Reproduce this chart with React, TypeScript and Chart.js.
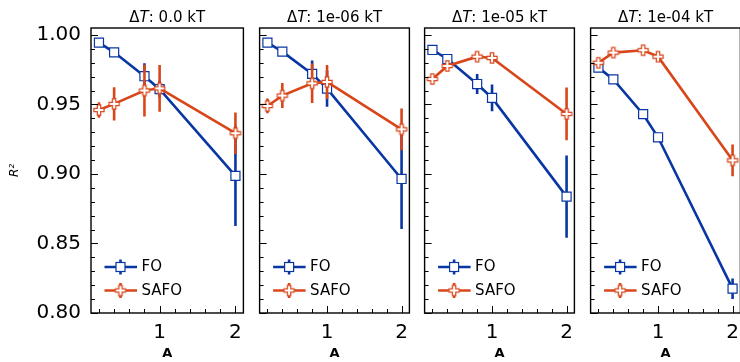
import React, { useEffect, useRef } from "react";
import { Chart, registerables } from "chart.js";

Chart.register(...registerables);

// ---------- data ----------
const aValues = [0.2, 0.4, 0.8, 1, 2];
const panelDeltaT = ["0.0", "1e-06", "1e-05", "1e-04"];

const foR2_dT0 = [0.9945, 0.9875, 0.9703, 0.961, 0.8986];
const foErr_dT0 = [0.002, 0.002, 0.0094, 0.006, 0.036];
const safoR2_dT0 = [0.946, 0.9504, 0.96, 0.9616, 0.9293];
const safoErr_dT0 = [0.0056, 0.012, 0.0187, 0.0168, 0.015];

const foR2_dT1 = [0.9945, 0.988, 0.972, 0.9614, 0.8964];
const foErr_dT1 = [0.002, 0.002, 0.0096, 0.013, 0.036];
const safoR2_dT1 = [0.9489, 0.9564, 0.9652, 0.9662, 0.9321];
const safoErr_dT1 = [0.0053, 0.009, 0.0142, 0.0122, 0.015];

const foR2_dT2 = [0.9892, 0.9827, 0.9647, 0.9547, 0.8837];
const foErr_dT2 = [0.002, 0.002, 0.0072, 0.0096, 0.0296];
const safoR2_dT2 = [0.9683, 0.9777, 0.9844, 0.9835, 0.9432];
const safoErr_dT2 = [0.002, 0.002, 0.002, 0.002, 0.019];

const foR2_dT3 = [0.9765, 0.968, 0.943, 0.9264, 0.8175];
const foErr_dT3 = [0.002, 0.001, 0.001, 0.001, 0.0074];
const safoR2_dT3 = [0.98, 0.9873, 0.989, 0.9844, 0.9098];
const safoErr_dT3 = [0.003, 0.002, 0.002, 0.002, 0.0114];

const xTickValues = [1, 2];
const xMinorTickValues = [0.2, 0.4, 0.6, 0.8, 1.2, 1.4, 1.6, 1.8];
const yTickValues = [0.8, 0.85, 0.9, 0.95, 1.0];
const yMinorTickValues = [
  0.81, 0.82, 0.83, 0.84, 0.86, 0.87, 0.88, 0.89, 0.91, 0.92, 0.93, 0.94,
  0.96, 0.97, 0.98, 0.99,
];
const seriesNames = ["FO", "SAFO"];

// tables built from the arrays above
const foMeans = [foR2_dT0, foR2_dT1, foR2_dT2, foR2_dT3];
const foErrs = [foErr_dT0, foErr_dT1, foErr_dT2, foErr_dT3];
const safoMeans = [safoR2_dT0, safoR2_dT1, safoR2_dT2, safoR2_dT3];
const safoErrs = [safoErr_dT0, safoErr_dT1, safoErr_dT2, safoErr_dT3];

// ---------- styles ----------
const FO_COLOR = "#0836a2";
const SAFO_COLOR = "#d8461a";
const FONT = "'DejaVu Sans', sans-serif";
const X_MIN = 0.095;
const X_MAX = 2.105;
const Y_MIN = 0.8;
const Y_MAX = 1.005;
const PANEL_LEFTS = [91, 257, 422, 588];
const PANEL_W = 155;

Chart.defaults.font.family = FONT;
Chart.defaults.color = "#000";

function makePlusImage(): HTMLCanvasElement {
  const c = document.createElement("canvas");
  c.width = 14;
  c.height = 14;
  const ctx = c.getContext("2d")!;
  const cx = 7,
    cy = 7,
    h = 5.1,
    a = h / 3;
  ctx.beginPath();
  ctx.moveTo(cx - a, cy - h);
  ctx.lineTo(cx + a, cy - h);
  ctx.lineTo(cx + a, cy - a);
  ctx.lineTo(cx + h, cy - a);
  ctx.lineTo(cx + h, cy + a);
  ctx.lineTo(cx + a, cy + a);
  ctx.lineTo(cx + a, cy + h);
  ctx.lineTo(cx - a, cy + h);
  ctx.lineTo(cx - a, cy + a);
  ctx.lineTo(cx - h, cy + a);
  ctx.lineTo(cx - h, cy - a);
  ctx.lineTo(cx - a, cy - a);
  ctx.closePath();
  ctx.fillStyle = "#fff";
  ctx.fill();
  ctx.strokeStyle = SAFO_COLOR;
  ctx.lineWidth = 1.2;
  ctx.stroke();
  return c;
}

const errorBarPlugin = {
  id: "errorBars",
  beforeDatasetDraw(chart: any, args: any) {
    const ds = chart.data.datasets[args.index];
    const errs: number[] = ds.errors;
    if (!errs) return;
    const { ctx, chartArea } = chart;
    const xs = chart.scales.x;
    const ys = chart.scales.y;
    ctx.save();
    ctx.beginPath();
    ctx.rect(chartArea.left, chartArea.top, chartArea.right - chartArea.left, chartArea.bottom - chartArea.top);
    ctx.clip();
    ctx.strokeStyle = ds.borderColor;
    ctx.lineWidth = 2.6;
    ctx.lineCap = "butt";
    ds.data.forEach((pt: any, i: number) => {
      const x = xs.getPixelForValue(pt.x);
      const y1 = ys.getPixelForValue(pt.y - errs[i]);
      const y2 = ys.getPixelForValue(pt.y + errs[i]);
      ctx.beginPath();
      ctx.moveTo(x, y1);
      ctx.lineTo(x, y2);
      ctx.stroke();
    });
    ctx.restore();
  },
};

const framePlugin = {
  id: "frameTicks",
  afterDatasetsDraw(chart: any) {
    const { ctx, chartArea } = chart;
    const xs = chart.scales.x;
    const ys = chart.scales.y;
    const { left, right, top, bottom } = chartArea;
    ctx.save();
    ctx.strokeStyle = "#000";
    ctx.lineWidth = 1;
    const tick = (x1: number, y1: number, x2: number, y2: number) => {
      ctx.beginPath();
      ctx.moveTo(x1, y1);
      ctx.lineTo(x2, y2);
      ctx.stroke();
    };
    yTickValues.forEach((v) => {
      const y = Math.round(ys.getPixelForValue(v)) + 0.5;
      tick(left, y, left + 7, y);
    });
    yMinorTickValues.forEach((v) => {
      const y = Math.round(ys.getPixelForValue(v)) + 0.5;
      tick(left, y, left + 4, y);
    });
    xTickValues.forEach((v) => {
      const x = Math.round(xs.getPixelForValue(v)) + 0.5;
      tick(x, bottom, x, bottom - 7);
    });
    xMinorTickValues.forEach((v) => {
      const x = Math.round(xs.getPixelForValue(v)) + 0.5;
      tick(x, bottom, x, bottom - 4);
    });
    ctx.lineWidth = 1.4;
    ctx.strokeRect(left, top, right - left, bottom - top);
    ctx.restore();
  },
};

function titlePlugin(value: string) {
  return {
    id: "panelTitle",
    afterDraw(chart: any) {
      const { ctx, chartArea } = chart;
      const cx = (chartArea.left + chartArea.right) / 2;
      const y = 18;
      const up = `15px ${FONT}`;
      const it = `italic 15px ${FONT}`;
      const parts: [string, string][] = [
        ["Δ", up],
        ["T", it],
        [`: ${value} kT`, up],
      ];
      ctx.save();
      ctx.fillStyle = "#000";
      ctx.textBaseline = "middle";
      ctx.textAlign = "left";
      let total = 0;
      parts.forEach(([t, f]) => {
        ctx.font = f;
        total += ctx.measureText(t).width;
      });
      let x = cx - total / 2;
      parts.forEach(([t, f]) => {
        ctx.font = f;
        ctx.fillText(t, x, y);
        x += ctx.measureText(t).width;
      });
      ctx.restore();
    },
  };
}

function legendPlugin(plusImg: HTMLCanvasElement) {
  return {
    id: "panelLegend",
    afterDraw(chart: any) {
      const { ctx, chartArea } = chart;
      const l = chartArea.left;
      const rows = [
        { y: chartArea.bottom - 46, color: FO_COLOR, name: seriesNames[0], marker: "square" },
        { y: chartArea.bottom - 22.5, color: SAFO_COLOR, name: seriesNames[1], marker: "plus" },
      ];
      ctx.save();
      rows.forEach((r) => {
        const mx = l + 29.5;
        ctx.strokeStyle = r.color;
        ctx.lineWidth = 2.6;
        ctx.beginPath();
        ctx.moveTo(l + 13.5, r.y);
        ctx.lineTo(l + 46, r.y);
        ctx.stroke();
        ctx.beginPath();
        ctx.moveTo(mx, r.y - 7.5);
        ctx.lineTo(mx, r.y + 7.5);
        ctx.stroke();
        if (r.marker === "square") {
          ctx.fillStyle = "#fff";
          ctx.fillRect(mx - 4.5, r.y - 4.5, 9, 9);
          ctx.lineWidth = 1.2;
          ctx.strokeRect(mx - 4.5, r.y - 4.5, 9, 9);
        } else {
          ctx.drawImage(plusImg, mx - plusImg.width / 2, r.y - plusImg.height / 2);
        }
        ctx.fillStyle = "#000";
        ctx.font = `15px ${FONT}`;
        ctx.textBaseline = "middle";
        ctx.textAlign = "left";
        ctx.fillText(r.name, l + 50.5, r.y + 0.5);
      });
      ctx.restore();
    },
  };
}

function makeConfig(p: number, plusImg: HTMLCanvasElement): any {
  const isFirst = p === 0;
  return {
    type: "line",
    data: {
      datasets: [
        {
          label: seriesNames[0],
          data: aValues.map((a, i) => ({ x: a, y: foMeans[p][i] })),
          errors: foErrs[p],
          borderColor: FO_COLOR,
          borderWidth: 2.6,
          tension: 0,
          pointStyle: "rect",
          pointRadius: 6.4,
          pointBackgroundColor: "#fff",
          pointBorderColor: FO_COLOR,
          pointBorderWidth: 1.2,
          order: 2,
        },
        {
          label: seriesNames[1],
          data: aValues.map((a, i) => ({ x: a, y: safoMeans[p][i] })),
          errors: safoErrs[p],
          borderColor: SAFO_COLOR,
          borderWidth: 2.6,
          tension: 0,
          pointStyle: plusImg,
          pointRadius: 5,
          pointBackgroundColor: "#fff",
          pointBorderColor: SAFO_COLOR,
          order: 1,
        },
      ],
    },
    options: {
      animation: false,
      responsive: false,
      devicePixelRatio: 1,
      events: [],
      layout: { padding: { top: 28, left: isFirst ? 0 : 5, right: 5, bottom: 0 } },
      plugins: {
        legend: { display: false },
        tooltip: { enabled: false },
        title: { display: false },
      },
      scales: {
        x: {
          type: "linear",
          min: X_MIN,
          max: X_MAX,
          grid: { display: false, drawTicks: false },
          border: { display: false },
          afterBuildTicks: (s: any) => {
            s.ticks = xTickValues.map((v) => ({ value: v }));
          },
          afterFit: (s: any) => {
            s.height = 49;
            s.paddingLeft = 0;
            s.paddingRight = 0;
          },
          ticks: {
            font: { size: 20 },
            padding: 7.5,
            maxRotation: 0,
            autoSkip: false,
            callback: (v: any) => String(v),
          },
          title: {
            display: true,
            text: "A",
            font: { size: 13, weight: "bold" },
            padding: { top: 0, bottom: 1 },
          },
        },
        y: {
          type: "linear",
          min: Y_MIN,
          max: Y_MAX,
          display: isFirst,
          grid: { display: false, drawTicks: false },
          border: { display: false },
          afterBuildTicks: (s: any) => {
            s.ticks = yTickValues.map((v) => ({ value: v }));
          },
          afterFit: (s: any) => {
            s.width = isFirst ? 91 : 0;
            s.paddingTop = 0;
            s.paddingBottom = 0;
          },
          ticks: {
            font: { size: 20 },
            padding: 10,
            includeBounds: false,
            callback: (v: any) => Number(v).toFixed(2),
          },
          title: {
            display: true,
            text: "R²",
            font: { size: 12, style: "italic" },
            padding: { top: 8, bottom: 0 },
          },
        },
      },
    },
    plugins: [errorBarPlugin, framePlugin, titlePlugin(panelDeltaT[p]), legendPlugin(plusImg)],
  };
}

function Panel({ index }: { index: number }) {
  const ref = useRef<HTMLCanvasElement>(null);
  const isFirst = index === 0;
  const left = isFirst ? 0 : PANEL_LEFTS[index] - 5;
  const width = isFirst ? PANEL_LEFTS[0] + PANEL_W + 5 : PANEL_W + 10;
  useEffect(() => {
    if (!ref.current) return;
    const plusImg = makePlusImage();
    const chart = new Chart(ref.current, makeConfig(index, plusImg));
    return () => chart.destroy();
  }, [index]);
  return (
    <canvas
      ref={ref}
      width={width}
      height={362}
      style={{ position: "absolute", left, top: 0, width, height: 362 }}
    />
  );
}

export default function App() {
  return (
    <div
      style={{
        position: "fixed",
        left: 0,
        top: 0,
        width: 740,
        height: 362,
        overflow: "hidden",
        background: "#fff",
      }}
    >
      {[0, 1, 2, 3].map((i) => (
        <Panel key={i} index={i} />
      ))}
    </div>
  );
}
